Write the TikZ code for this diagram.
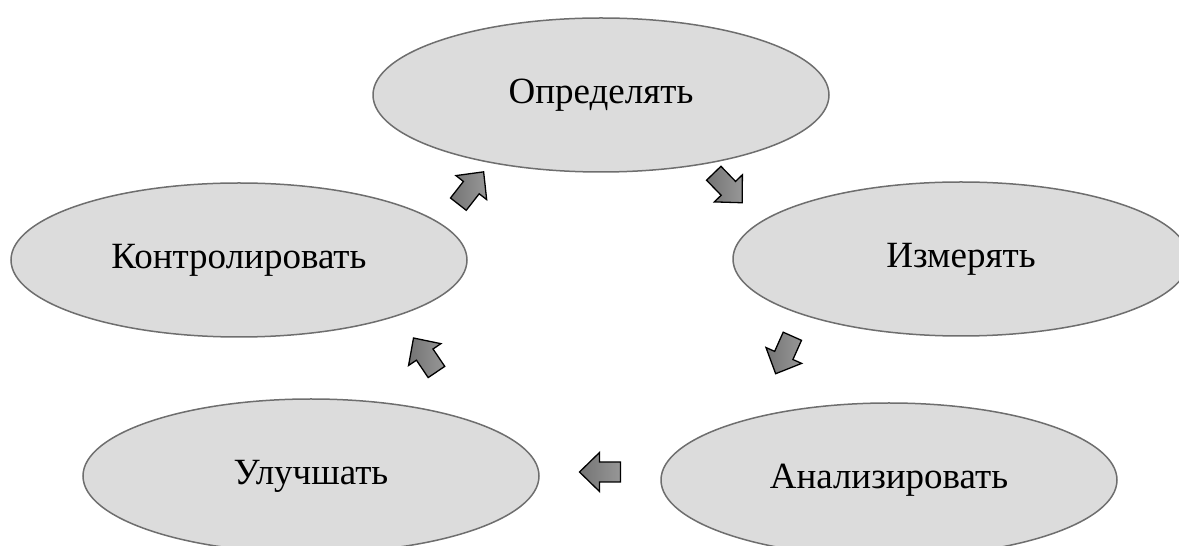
\documentclass[tikz,border=0pt]{standalone}
\usepackage{fontspec}
\setmainfont{Liberation Serif}
\usetikzlibrary{shapes.geometric}
\definecolor{stagefill}{HTML}{DCDCDC}
\definecolor{stageline}{HTML}{6E6E6E}
\definecolor{arrowlight}{HTML}{979797}
\definecolor{arrowdark}{HTML}{747474}
\begin{document}
\begin{tikzpicture}[x=1pt,y=1pt,
  stage/.style={ellipse, draw=stageline, line width=1.5pt, fill=stagefill,
    minimum width=456pt, minimum height=154pt, inner sep=0pt,
    font=\fontsize{37}{44}\selectfont},
  arrowbody/.style={draw=black, line width=1.3pt, line join=miter,
    left color=arrowdark, right color=arrowlight},
  pics/cyclearrow/.style={code={
    \draw[arrowbody] (-20.5,-10) -- (0.5,-10) -- (0.5,-19.5) -- (20.5,0)
      -- (0.5,19.5) -- (0.5,10) -- (-20.5,10) -- cycle;}}]
\useasboundingbox (0,0) rectangle (1179,546);
\clip (0,0) rectangle (1179,546);
% the five stages of the cycle
\node[stage] (def) at (601,451) {Определять};
\node[stage] (ctl) at (239,286) {Контролировать};
\node[stage] (mea) at (961,287) {Измерять};
\node[stage] (imp) at (311,70) {Улучшать};
\node[stage] (ana) at (889,66) {Анализировать};
% block arrows between the stages
\pic[rotate=-46] at (728,358) {cyclearrow};
\pic[rotate=246] at (784,191) {cyclearrow};
\pic[rotate=180] at (600,74) {cyclearrow};
\pic[rotate=124] at (425,191) {cyclearrow};
\pic[rotate=52] at (471,358) {cyclearrow};
\end{tikzpicture}
\end{document}
